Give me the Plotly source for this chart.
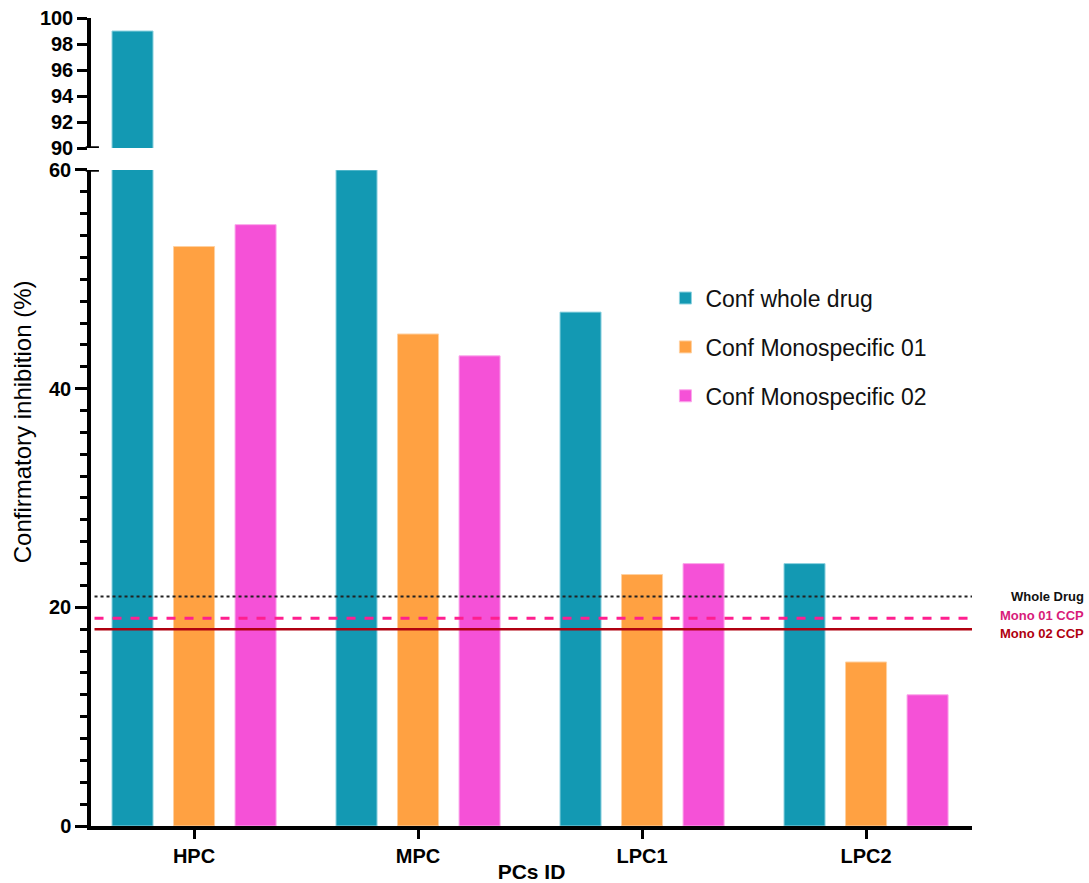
import plotly.graph_objects as go

# ---- data ----
categories = ["HPC", "MPC", "LPC1", "LPC2"]
conf_whole_drug = [99, 60, 47, 24]
conf_mono_01 = [53, 45, 23, 15]
conf_mono_02 = [55, 43, 24, 12]

cutpoint_names = ["Whole Drug", "Mono 01 CCP", "Mono 02 CCP"]
cutpoint_values = [21, 19, 18]

series_names = ["Conf whole drug", "Conf Monospecific 01", "Conf Monospecific 02"]
series_values = [conf_whole_drug, conf_mono_01, conf_mono_02]

lower_ticks = [0, 20, 40, 60]
upper_ticks = [90, 92, 94, 96, 98, 100]

# ---- styles ----
FONT = "Arial, Liberation Sans, sans-serif"
bar_colors = ["#1399b3", "#ffa142", "#f551d7"]
bar_edges = ["#8fd3e0", "#ffd0a0", "#fba8eb"]
cut_styles = [
    dict(color="#222222", dash="dot", width=2),
    dict(color="#ff1f8f", dash="dash", width=3),
    dict(color="#b0000f", dash="solid", width=2.5),
]
cut_text_colors = ["#111111", "#d81b7a", "#b0000f"]
cut_text_shift = [0, 3, -4]

fig = go.Figure()

for i, (name, vals) in enumerate(zip(series_names, series_values)):
    fig.add_trace(go.Bar(
        x=categories, y=vals, name=name, legendgroup=name,
        marker=dict(color=bar_colors[i], line=dict(color=bar_edges[i], width=1)),
        xaxis="x", yaxis="y",
    ))
for i, (name, vals) in enumerate(zip(series_names, series_values)):
    fig.add_trace(go.Bar(
        x=categories, y=vals, name=name, legendgroup=name, showlegend=False,
        marker=dict(color=bar_colors[i], line=dict(color=bar_edges[i], width=1)),
        xaxis="x", yaxis="y2",
    ))

# reference cut points
for name, val, st, tc, sh in zip(cutpoint_names, cutpoint_values, cut_styles,
                                 cut_text_colors, cut_text_shift):
    fig.add_shape(type="line", xref="paper", yref="y", x0=0.004, x1=1.0, y0=val, y1=val,
                  line=st, layer="above")
    fig.add_annotation(text=f"<b>{name}</b>", xref="paper", yref="y", x=1.129, y=val,
                       xanchor="right", yanchor="middle", showarrow=False, yshift=sh,
                       font=dict(family=FONT, size=13, color=tc))

# axis-break caps
fig.add_shape(type="line", xref="paper", yref="y", x0=-0.006, x1=0.009, y0=60, y1=60,
              line=dict(color="black", width=3.5))
fig.add_shape(type="line", xref="paper", yref="y2", x0=-0.006, x1=0.009, y0=90, y1=90,
              line=dict(color="black", width=3.5))

# y-axis title
fig.add_annotation(text="Confirmatory inhibition (%)", xref="paper", yref="paper",
                   x=-0.078, y=0.5, textangle=-90, showarrow=False,
                   xanchor="center", yanchor="middle",
                   font=dict(family=FONT, size=24, color="black"))

tickfont = dict(family=FONT, size=20, color="black", weight="bold")

fig.update_layout(
    width=1089, height=883,
    margin=dict(l=91, r=117, t=18, b=57),
    paper_bgcolor="white", plot_bgcolor="white",
    barmode="group", bargap=0.176, bargroupgap=0.333,
    font=dict(family=FONT, color="black"),
    showlegend=True,
    legend=dict(x=0.652, y=0.68, xanchor="left", yanchor="top",
                font=dict(family=FONT, size=23, color="#111111"),
                tracegroupgap=16, bgcolor="rgba(0,0,0,0)"),
    xaxis=dict(
        type="category", range=[-0.46, 3.473], anchor="y", automargin=False,
        showline=True, linecolor="black", linewidth=4,
        ticks="outside", ticklen=9, tickwidth=3, tickcolor="black",
        tickfont=tickfont, showgrid=False, zeroline=False,
        title=dict(text="<b>PCs ID</b>", font=dict(family=FONT, size=21, color="black"),
                   standoff=0),
    ),
    yaxis=dict(
        domain=[0, 0.8119], range=[0, 60], anchor="x", automargin=False,
        tickvals=lower_ticks, showline=True, linecolor="black", linewidth=3.5,
        ticks="outside", ticklen=12, tickwidth=3, tickcolor="black",
        minor=dict(dtick=2, ticks="outside", ticklen=7, tickwidth=3, tickcolor="black",
                   showgrid=False),
        tickfont=tickfont, showgrid=False, zeroline=False,
    ),
    yaxis2=dict(
        domain=[0.8391, 1.0], range=[90, 100], anchor="x", automargin=False,
        tickvals=upper_ticks, showline=True, linecolor="black", linewidth=3.5,
        ticks="outside", ticklen=10, tickwidth=3, tickcolor="black",
        tickfont=tickfont, showgrid=False, zeroline=False,
    ),
)

fig.write_html("out.html")
